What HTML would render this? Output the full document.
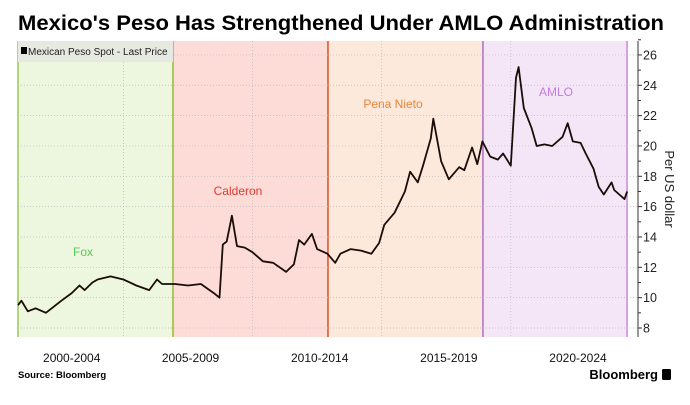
<!DOCTYPE html>
<html><head><meta charset="utf-8"><style>
body{margin:0;background:#fff;width:690px;height:400px;overflow:hidden;font-family:"Liberation Sans",sans-serif}
</style></head><body>
<svg width="690" height="400" font-family="Liberation Sans, sans-serif">
<text x="18" y="30" font-size="21" font-weight="bold" fill="#000" textLength="646" lengthAdjust="spacingAndGlyphs">Mexico's Peso Has Strengthened Under AMLO Administration</text>
<g id="bands"></g>
<g id="grid"></g>
<rect x="18" y="41" width="155" height="21" fill="#e6e9e0"/>
<rect x="21" y="47" width="6" height="7" fill="#000"/>
<text x="28" y="55" font-size="10" fill="#222">Mexican Peso Spot - Last Price</text>
<g id="series"></g>
<g id="axis"></g>
<text x="18" y="378" font-size="9.5" font-weight="bold" fill="#000">Source: Bloomberg</text>
<text x="658" y="379" font-size="13" font-weight="bold" text-anchor="end" fill="#000">Bloomberg</text>
<rect x="662" y="369" width="9" height="11" rx="1.5" fill="#000"/>
</svg>
<script>
const years=[2000.92,2001.05,2001.3,2001.6,2002.0,2002.3,2002.6,2003.0,2003.3,2003.5,2003.8,2004.0,2004.5,2005.0,2005.5,2006.0,2006.3,2006.5,2007.0,2007.5,2008.0,2008.5,2008.72,2008.85,2009.0,2009.2,2009.4,2009.7,2010.0,2010.4,2010.8,2011.3,2011.6,2011.8,2012.0,2012.3,2012.5,2012.9,2013.2,2013.4,2013.8,2014.2,2014.6,2014.9,2015.1,2015.5,2015.9,2016.1,2016.4,2016.6,2016.9,2017.0,2017.3,2017.6,2018.0,2018.2,2018.5,2018.7,2018.9,2019.2,2019.5,2019.7,2020.0,2020.2,2020.3,2020.5,2020.8,2021.0,2021.3,2021.6,2022.0,2022.2,2022.4,2022.7,2022.9,2023.2,2023.4,2023.6,2023.9,2024.0,2024.2,2024.4,2024.5];
const values=[9.5,9.8,9.1,9.3,9.0,9.4,9.8,10.3,10.8,10.5,11.0,11.2,11.4,11.2,10.8,10.5,11.2,10.9,10.9,10.8,10.9,10.3,10.0,13.5,13.7,15.4,13.4,13.3,13.0,12.4,12.3,11.7,12.2,13.8,13.5,14.2,13.2,12.9,12.3,12.9,13.2,13.1,12.9,13.6,14.8,15.6,17.0,18.3,17.6,18.7,20.5,21.8,19.0,17.8,18.6,18.4,19.9,18.8,20.3,19.3,19.1,19.5,18.7,24.5,25.2,22.5,21.2,20.0,20.1,20.0,20.6,21.5,20.3,20.2,19.5,18.5,17.3,16.8,17.6,17.1,16.8,16.5,17.0];
const yTicks=[8,10,12,14,16,18,20,22,24,26];
const eras=["Fox","Calderon","Pena Nieto","AMLO"];
const eraStarts=[2000.92,2006.92,2012.92,2018.92];
const eraEnds=[2006.92,2012.92,2018.92,2024.5];
const periodLabels=["2000-2004","2005-2009","2010-2014","2015-2019","2020-2024"];
const periodCenters=[2003.0,2007.6,2012.6,2017.6,2022.6];
const gridYears=[2005,2010,2015,2020];
const X=t=>18+(t-2000.92)*25.83;
const Y=v=>328-(v-8)*15.17;
const NS="http://www.w3.org/2000/svg";
function mk(tag,attrs,parent,txt){const e=document.createElementNS(NS,tag);for(const k in attrs)e.setAttribute(k,attrs[k]);if(txt!=null)e.textContent=txt;document.getElementById(parent).appendChild(e);return e;}
const fills=["#edf6de","#fddcd8","#fde8dc","#f4e6f6"],txtc=["#5c5","#e03a30","#e8853a","#c07de0"];
const labPos=[[83,256],[238,195],[393,108],[556,96]];
eras.forEach((n,i)=>{
 const r=mk('rect',{x:X(eraStarts[i]),y:41,width:X(eraEnds[i])-X(eraStarts[i]),height:296,fill:fills[i]},'bands');
 
 
 const t=mk('text',{x:labPos[i][0],y:labPos[i][1],'font-size':12,fill:txtc[i],'text-anchor':'middle'},'bands',n);
 
 
});
[[X(eraStarts[0]),"#9c5"],[X(eraStarts[1]),"#9b3"],[X(eraStarts[2]),"#e0501f"],[X(eraStarts[3]),"#b070c0"],[X(eraEnds[3]),"#c888d8"]].forEach(([x,c])=>{
 const l=mk('line',{x1:x,x2:x,y1:41,y2:337,stroke:c,'stroke-width':1.5},'grid');
 
 
});
yTicks.forEach(v=>{
 const g=mk('line',{x1:18,x2:638,y1:Y(v),y2:Y(v),stroke:'#bbb','stroke-dasharray':'1,2','stroke-width':0.7},'grid');
 
 
 const tk=mk('line',{x1:638,x2:642,y1:Y(v),y2:Y(v),stroke:'#333'},'axis');
 
 
 const mt=mk('line',{x1:638,x2:641,y1:Y(v+1),y2:Y(v+1),stroke:'#333'},'axis');
 
 
 const lb=mk('text',{x:643,y:Y(v)+4.5,'font-size':12.5,fill:'#222'},'axis',v);
 
 
});
gridYears.forEach(t=>{
 const g=mk('line',{x1:X(t),x2:X(t),y1:41,y2:337,stroke:'#bbb','stroke-dasharray':'1,2','stroke-width':0.7},'grid');
 
 
});
const ax=mk('line',{x1:638,x2:638,y1:41,y2:337,stroke:'#333'},'axis');


const yt=mk('text',{x:0,y:0,'font-size':13,fill:'#222','text-anchor':'middle',transform:'translate(665,189) rotate(90)'},'axis','Per US dollar');


periodLabels.forEach((p,i)=>{
 const t=mk('text',{x:X(periodCenters[i]),y:362,'font-size':12,fill:'#111','text-anchor':'middle'},'axis',p);
 
 
});
const d=years.map((t,i)=>(i?'L':'M')+X(t).toFixed(1)+','+Y(values[i]).toFixed(1)).join('');
const pth=mk('path',{d:d,fill:'none',stroke:'#1a0d08','stroke-width':1.8,'stroke-linejoin':'round'},'series');


</script>
</body></html>
